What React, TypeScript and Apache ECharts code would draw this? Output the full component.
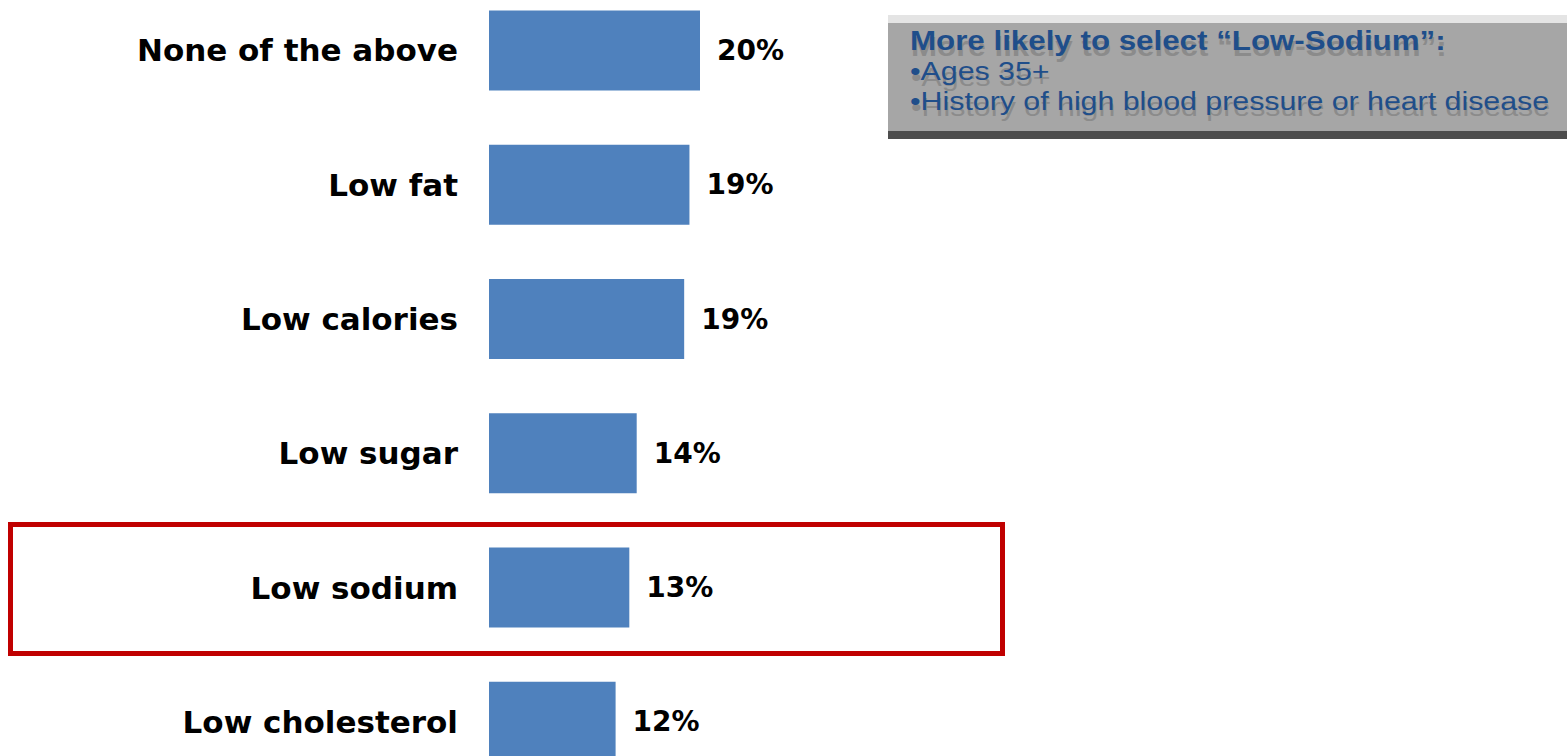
import React, { useEffect, useRef } from "react";
import * as echarts from "echarts";

const categories = ["None of the above", "Low fat", "Low calories", "Low sugar", "Low sodium", "Low cholesterol"];
const values = [20, 19, 18.5, 14, 13.3, 12];
const noteTitle = "More likely to select \u201cLow-Sodium\u201d:";
const noteLines = ["\u2022Ages 35+", "\u2022History of high blood pressure or heart disease"];

const OFF = 17; // the chart canvas starts 17px above the page top

export default function App() {
  const ref = useRef<HTMLDivElement>(null);
  useEffect(() => {
    if (!ref.current) return;
    const chart = echarts.init(ref.current, null, { renderer: "svg" });
    const noteColor = "#1f4e8a";
    const ghost = "#8b8b8b";
    const textEls: any[] = [];
    const addText = (t: string, x: number, y: number, bold: boolean, sx: number, fs: number) => {
      textEls.push({
        type: "text",
        x: x + 1,
        y: y + OFF + 6,
        scaleX: sx,
        z: 11,
        silent: true,
        style: {
          text: t,
          fill: ghost,
          fontFamily: "Liberation Sans",
          fontWeight: bold ? "bold" : "normal",
          fontSize: fs,
          verticalAlign: "middle",
          align: "left",
        },
      });
      textEls.push({
        type: "text",
        x,
        y: y + OFF,
        scaleX: sx,
        z: 12,
        style: {
          text: t,
          fill: noteColor,
          fontFamily: "Liberation Sans",
          fontWeight: bold ? "bold" : "normal",
          fontSize: fs,
          verticalAlign: "middle",
          align: "left",
        },
      });
    };
    addText(noteTitle, 910, 40.5, true, 1.16, 27);
    noteLines.forEach((t, i) => addText(t, 910, 71 + i * 29.5, false, 1.166, 26));

    chart.setOption({
      animation: false,
      backgroundColor: "#ffffff",
      grid: { left: 489, right: 23, top: 0.35, height: 805.8, containLabel: false },
      xAxis: { type: "value", min: 0, max: 100, show: false },
      yAxis: {
        type: "category",
        inverse: true,
        data: categories,
        axisLine: { show: false },
        axisTick: { show: false },
        splitLine: { show: false },
        axisLabel: {
          margin: 31,
          color: "#000000",
          fontFamily: "DejaVu Sans",
          fontWeight: "bold",
          fontSize: 31,
        },
      },
      series: [
        {
          type: "bar",
          data: values,
          barWidth: 80,
          itemStyle: { color: "#4f81bd" },
          label: {
            show: true,
            position: "right",
            distance: 17,
            color: "#000000",
            fontFamily: "DejaVu Sans",
            fontWeight: "bold",
            fontSize: 28,
            formatter: (p: any) => Math.round(p.value) + "%",
          },
        },
      ],
      graphic: [
        { type: "rect", shape: { x: 888, y: 15 + OFF, width: 679, height: 8 }, style: { fill: "#e4e4e4" }, z: 10 },
        { type: "rect", shape: { x: 888, y: 23 + OFF, width: 679, height: 108 }, style: { fill: "#a6a6a6" }, z: 10 },
        { type: "rect", shape: { x: 888, y: 131 + OFF, width: 679, height: 8 }, style: { fill: "#4d4d4d" }, z: 10 },
        ...textEls,
        {
          type: "rect",
          shape: { x: 10.5, y: 524.5 + OFF, width: 992, height: 129 },
          style: { fill: "none", stroke: "#c00000", lineWidth: 5 },
          z: 13,
        },
      ],
    });
    return () => chart.dispose();
  }, []);
  return (
    <div style={{ position: "fixed", left: 0, top: 0, width: 1567, height: 756, overflow: "hidden", background: "#fff" }}>
      <div ref={ref} style={{ position: "absolute", left: 0, top: -OFF, width: 1567, height: 806 }} />
    </div>
  );
}
